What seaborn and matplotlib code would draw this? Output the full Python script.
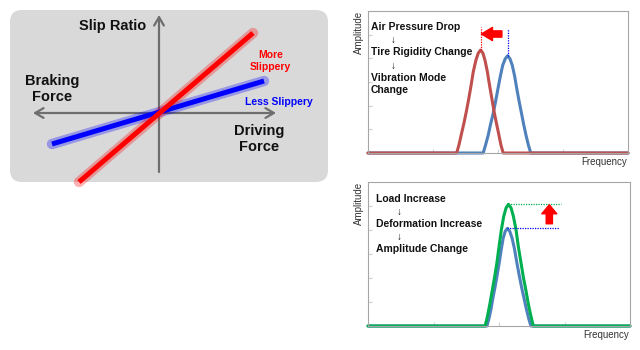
import matplotlib
matplotlib.use('Agg')
import matplotlib.pyplot as plt
import seaborn as sns
import pandas as pd
from matplotlib.patches import FancyBboxPatch

# ---------------- data ----------------
# left concept diagram: slip ratio vs force (pixel-like units around origin)
slip_lines = ["More Slippery", "Less Slippery"]
more_x = [-80, 94]
more_y = [-69, 80]
less_x = [-107, 105]
less_y = [-31, 32]

# top-right: frequency response before/after air pressure drop
top_blue_x = [0, 4.43, 4.52, 4.62, 4.71, 4.81, 4.90, 4.99, 5.09, 5.18, 5.28, 5.37,
              5.46, 5.55, 5.64, 5.73, 5.82, 5.91, 5.99, 6.08, 6.17, 6.26, 10]
top_blue_y = [0, 0, 0.055, 0.123, 0.199, 0.274, 0.356, 0.445, 0.541, 0.617, 0.664, 0.685,
              0.664, 0.617, 0.541, 0.445, 0.356, 0.274, 0.199, 0.123, 0.055, 0, 0]
top_red_x = [0, 3.41, 3.50, 3.59, 3.69, 3.78, 3.87, 3.96, 4.05, 4.15, 4.24, 4.33,
             4.42, 4.50, 4.59, 4.68, 4.77, 4.85, 4.94, 5.03, 5.11, 5.20, 10]
top_red_y = [0, 0, 0.058, 0.131, 0.210, 0.290, 0.377, 0.471, 0.573, 0.653, 0.703, 0.725,
             0.703, 0.653, 0.573, 0.471, 0.377, 0.290, 0.210, 0.131, 0.058, 0, 0]

# bottom-right: amplitude before/after load increase
bot_blue_x = [0, 4.54, 4.62, 4.70, 4.77, 4.85, 4.93, 5.01, 5.09, 5.16, 5.24, 5.32,
              5.41, 5.50, 5.59, 5.68, 5.77, 5.86, 5.95, 6.04, 6.13, 6.22, 10]
bot_blue_y = [0, 0, 0.054, 0.122, 0.197, 0.271, 0.353, 0.441, 0.536, 0.610, 0.658, 0.678,
              0.658, 0.610, 0.536, 0.441, 0.353, 0.271, 0.197, 0.122, 0.054, 0, 0]
bot_green_x = [0, 4.47, 4.56, 4.65, 4.74, 4.83, 4.92, 5.00, 5.09, 5.18, 5.27, 5.36,
               5.46, 5.55, 5.65, 5.74, 5.84, 5.93, 6.03, 6.12, 6.22, 6.31, 10]
bot_green_y = [0, 0, 0.068, 0.152, 0.245, 0.338, 0.439, 0.549, 0.668, 0.761, 0.820, 0.845,
               0.820, 0.761, 0.668, 0.549, 0.439, 0.338, 0.245, 0.152, 0.068, 0, 0]

top_steps = ["Air Pressure Drop", "\u2193", "Tire Rigidity Change", "\u2193", "Vibration Mode", "Change"]
bot_steps = ["Load Increase", "\u2193", "Deformation Increase", "\u2193", "Amplitude Change"]

RED = "#ff0000"
BLUE = "#0000ff"
C_RED = "#c0504d"
C_BLUE = "#4f81bd"
C_GREEN = "#00b050"
TXT = "#111111"

sns.set_style("white")
plt.rcParams['font.family'] = ['Liberation Sans', 'DejaVu Sans']

fig = plt.figure(figsize=(6.4, 3.5), dpi=100)

# ---------------- left diagram ----------------
ax0 = fig.add_axes([10 / 640, 1 - 182 / 350, 318 / 640, 172 / 350])
ax0.set_xlim(-149, 169)
ax0.set_ylim(-69, 103)
ax0.axis('off')
box = FancyBboxPatch((-149, -69), 318, 172, boxstyle='round,pad=0,rounding_size=12',
                     facecolor='#d9d9d9', edgecolor='none', zorder=0, clip_on=False)
ax0.add_patch(box)

arrow_kw = dict(arrowstyle='->,head_length=0.6,head_width=0.35', color='#6e6e6e', lw=1.6,
                shrinkA=0, shrinkB=0)
ax0.annotate('', xy=(-126, 0), xytext=(0, 0), arrowprops=arrow_kw, zorder=1)
ax0.annotate('', xy=(117, 0), xytext=(0, 0), arrowprops=arrow_kw, zorder=1)
ax0.annotate('', xy=(0, 98), xytext=(0, -59), arrowprops=arrow_kw, zorder=1)

for xs, ys, col in [(less_x, less_y, BLUE), (more_x, more_y, RED)]:
    sns.lineplot(x=xs, y=ys, ax=ax0, color=col, lw=7.5, alpha=0.3,
                 solid_capstyle='round', legend=False, clip_on=False, zorder=2)
    sns.lineplot(x=xs, y=ys, ax=ax0, color=col, lw=3.6, alpha=1.0,
                 solid_capstyle='butt', legend=False, clip_on=False, zorder=3)

ax0.text(-46, 87, "Slip Ratio", ha='center', va='center', fontsize=10.5, fontweight='bold', color=TXT, zorder=4)
ax0.text(-107, 24, "Braking\nForce", ha='center', va='center', fontsize=10.5, fontweight='bold',
         color=TXT, linespacing=1.1, zorder=4)
ax0.text(100, -26, "Driving\nForce", ha='center', va='center', fontsize=10.5, fontweight='bold',
         color=TXT, linespacing=1.1, zorder=4)
ax0.text(111.5, 52.5, "More\nSlippery", ha='center', va='center', fontsize=7.5, fontweight='bold',
         color=RED, linespacing=1.25, zorder=4)
ax0.text(119.5, 11, "Less Slippery", ha='center', va='center', fontsize=7.5, fontweight='bold',
         color=BLUE, zorder=4)


def style_freq_axes(ax):
    ax.set_xlim(0, 10)
    ax.set_ylim(0, 1)
    for s in ax.spines.values():
        s.set_color('#a6a6a6')
        s.set_linewidth(0.8)
    ax.set_xticks([2.5, 5, 7.5])
    ax.set_yticks([1 / 6, 2 / 6, 3 / 6, 4 / 6, 5 / 6])
    ax.tick_params(axis='both', direction='in', length=3, width=0.8, color='#d0d0d0',
                   labelbottom=False, labelleft=False, bottom=True, left=True)
    ax.set_xlabel('')
    ax.set_ylabel('')
    ax.text(-0.035, 1.0, "Amplitude", transform=ax.transAxes, rotation=90, ha='center', va='top',
            fontsize=7, color='#333333')
    ax.text(0.995, -0.062, "Frequency", transform=ax.transAxes, ha='right', va='center',
            fontsize=7, color='#333333')


# ---------------- top right ----------------
ax1 = fig.add_axes([368 / 640, 1 - 153 / 350, 260 / 640, 142 / 350])
sns.lineplot(x=top_blue_x, y=top_blue_y, ax=ax1, color=C_BLUE, lw=2.2, legend=False, clip_on=False)
sns.lineplot(x=top_red_x, y=top_red_y, ax=ax1, color=C_RED, lw=2.2, legend=False, clip_on=False)
style_freq_axes(ax1)
ax1.vlines(top_red_x[11], top_red_y[11], 0.885, colors=RED, linestyles=(0, (1, 1)), lw=0.9)
ax1.vlines(top_blue_x[11], top_blue_y[11], 0.875, colors=BLUE, linestyles=(0, (1, 1)), lw=0.9)
ax1.annotate('', xy=(top_red_x[11] + 0.03, 0.838), xytext=(5.15, 0.838),
             arrowprops=dict(arrowstyle='simple,head_length=0.8,head_width=0.95,tail_width=0.45',
                             color=RED, shrinkA=0, shrinkB=0, mutation_scale=10))
ys_top = [0.887, 0.796, 0.709, 0.615, 0.53, 0.444]
for txt, yy in zip(top_steps, ys_top):
    if txt == "\u2193":
        ax1.text(0.097, yy, txt, transform=ax1.transAxes, ha='center', va='center', fontsize=7, color=TXT)
    else:
        ax1.text(0.01, yy, txt, transform=ax1.transAxes, ha='left', va='center', fontsize=7.5,
                 fontweight='bold', color=TXT)

# ---------------- bottom right ----------------
ax2 = fig.add_axes([368 / 640, 1 - 326 / 350, 262 / 640, 144 / 350])
sns.lineplot(x=bot_blue_x, y=bot_blue_y, ax=ax2, color=C_BLUE, lw=2.2, legend=False, clip_on=False)
sns.lineplot(x=bot_green_x, y=bot_green_y, ax=ax2, color=C_GREEN, lw=2.2, legend=False, clip_on=False)
style_freq_axes(ax2)
ax2.hlines(bot_green_y[11], bot_green_x[11], 7.37, colors=C_GREEN, linestyles=(0, (1, 1)), lw=0.9)
ax2.hlines(bot_blue_y[11], bot_blue_x[11], 7.30, colors=BLUE, linestyles=(0, (1, 1)), lw=0.9)
ax2.annotate('', xy=(6.92, 0.842), xytext=(6.92, 0.71),
             arrowprops=dict(arrowstyle='simple,head_length=0.65,head_width=1.08,tail_width=0.45',
                             color=RED, shrinkA=0, shrinkB=0, mutation_scale=10))
ys_bot = [0.882, 0.794, 0.706, 0.618, 0.535]
for txt, yy in zip(bot_steps, ys_bot):
    if txt == "\u2193":
        ax2.text(0.118, yy, txt, transform=ax2.transAxes, ha='center', va='center', fontsize=7, color=TXT)
    else:
        ax2.text(0.029, yy, txt, transform=ax2.transAxes, ha='left', va='center', fontsize=7.5,
                 fontweight='bold', color=TXT)

fig.savefig('out.png', dpi=100)
